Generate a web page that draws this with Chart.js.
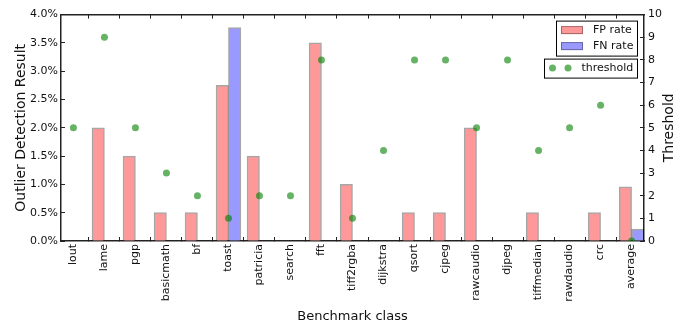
<!DOCTYPE html>
<html>
<head>
<meta charset="utf-8">
<script src="https://cdn.jsdelivr.net/npm/chart.js@4/dist/chart.umd.min.js"></script>
<style>
  html, body { margin: 0; padding: 0; background: #fff; }
  #wrap { width: 699px; height: 331px; }
</style>
</head>
<body>
<div id="wrap"><canvas id="c" width="699" height="331"></canvas></div>
<script>
// Benchmarks on the x axis
const categories = ['lout', 'lame', 'pgp', 'basicmath', 'bf', 'toast', 'patricia', 'search', 'fft',
  'tiff2rgba', 'dijkstra', 'qsort', 'cjpeg', 'rawcaudio', 'djpeg', 'tiffmedian', 'rawdaudio', 'crc', 'average'];

// False positive / false negative rates, in percent
const fpRate = [0, 2.0, 1.5, 0.5, 0.5, 2.75, 1.5, 0, 3.5, 1.0, 0, 0.5, 0.5, 2.0, 0, 0.5, 0, 0.5, 0.958];
const fnRate = [0, 0, 0, 0, 0, 3.77, 0, 0, 0, 0, 0, 0, 0, 0, 0, 0, 0, 0, 0.209];

// Detection threshold per benchmark (right axis)
const threshold = [5, 9, 5, 3, 2, 1, 2, 2, 8, 1, 4, 8, 8, 5, 8, 4, 5, 6, 0];

// Axis tick values
const leftTicks = [0, 0.5, 1.0, 1.5, 2.0, 2.5, 3.0, 3.5, 4.0];
const rightTicks = [0, 1, 2, 3, 4, 5, 6, 7, 8, 9, 10];

const FONT = 'DejaVu Sans';
const INK = '#111';
const pts = arr => arr.map((v, i) => ({ x: i, y: v }));

// Legend boxes and the right-hand axis title, drawn on top of the chart
const overlay = {
  id: 'overlay',
  afterDraw(chart) {
    const ctx = chart.ctx;
    const area = chart.chartArea;
    const ds = chart.data.datasets;
    ctx.save();

    // bar legend
    const r = area.right - 6;
    let bx = r - 82, by = area.top + 6;
    ctx.fillStyle = '#fff';
    ctx.fillRect(bx, by, 82, 36);
    ctx.strokeStyle = '#000';
    ctx.lineWidth = 1;
    ctx.strokeRect(bx + 0.5, by + 0.5, 81, 35);
    ctx.font = '11px "' + FONT + '"';
    ctx.textBaseline = 'middle';
    ctx.textAlign = 'left';
    [ds[0], ds[1]].forEach((d, k) => {
      const cy = by + 9.5 + k * 16;
      ctx.fillStyle = d.backgroundColor;
      ctx.fillRect(bx + 5, cy - 4, 22, 8);
      ctx.strokeStyle = d.borderColor;
      ctx.strokeRect(bx + 5.5, cy - 3.5, 21, 7);
      ctx.fillStyle = INK;
      ctx.fillText(d.label, bx + 37, cy);
    });

    // threshold legend
    bx = r - 94; by = area.top + 44;
    ctx.fillStyle = '#fff';
    ctx.fillRect(bx, by, 94, 20);
    ctx.strokeStyle = '#000';
    ctx.strokeRect(bx + 0.5, by + 0.5, 93, 19);
    const cy = by + 9.5;
    ctx.fillStyle = ds[2].pointBackgroundColor;
    [bx + 8.5, bx + 24].forEach(px => {
      ctx.beginPath();
      ctx.arc(px, cy, 3.5, 0, Math.PI * 2);
      ctx.fill();
    });
    ctx.fillStyle = INK;
    ctx.fillText(ds[2].label, bx + 37.5, cy);

    // right axis title, reading upward
    ctx.font = '14px "' + FONT + '"';
    ctx.textAlign = 'center';
    ctx.translate(669, (area.top + area.bottom) / 2);
    ctx.rotate(-Math.PI / 2);
    ctx.fillText('Threshold', 0, 0);
    ctx.restore();
  }
};

const frame = { display: true, color: '#222', width: 1.5 };
const inwardTicks = { drawOnChartArea: false, drawTicks: true, tickLength: -4, tickColor: '#222', tickWidth: 1 };

new Chart(document.getElementById('c'), {
  type: 'bar',
  data: {
    datasets: [
      {
        label: 'FP rate', data: pts(fpRate), xAxisID: 'x', yAxisID: 'y',
        backgroundColor: 'rgb(255,153,153)', borderColor: 'rgba(0,0,0,0.35)', borderWidth: 1.5,
        barThickness: 12.4, order: 1
      },
      {
        label: 'FN rate', data: pts(fnRate), xAxisID: 'x', yAxisID: 'y',
        backgroundColor: 'rgb(153,153,255)', borderColor: 'rgba(0,0,0,0.35)', borderWidth: 1.5,
        barThickness: 12.4, order: 1
      },
      {
        type: 'scatter', label: 'threshold', data: pts(threshold), xAxisID: 'x', yAxisID: 'y2',
        pointRadius: 3.5, pointBackgroundColor: 'rgba(0,128,0,0.6)', pointBorderWidth: 0,
        showLine: false, order: 0
      }
    ]
  },
  options: {
    responsive: false,
    devicePixelRatio: 1,
    animation: false,
    events: [],
    layout: { padding: 0 },
    plugins: { legend: { display: false }, tooltip: { enabled: false } },
    scales: {
      x: {
        type: 'linear', position: 'bottom', min: -0.4, max: 18.4, offset: false,
        grid: inwardTicks, border: frame,
        ticks: {
          stepSize: 1, includeBounds: false, autoSkip: false, maxRotation: 90, minRotation: 90,
          padding: 7, color: INK, font: { family: FONT, size: 11 },
          callback: v => categories[Math.round(v)] ?? ''
        },
        title: { display: true, text: 'Benchmark class', color: INK, font: { family: FONT, size: 13 }, padding: { top: 0, bottom: 7 } },
        afterFit: s => { s.height = 90; }
      },
      xTop: {
        type: 'linear', position: 'top', min: -0.4, max: 18.4, offset: false,
        grid: inwardTicks, border: frame,
        ticks: { stepSize: 1, includeBounds: false, display: false },
        afterFit: s => { s.height = 7; }
      },
      y: {
        type: 'linear', position: 'left', min: 0, max: 4,
        grid: inwardTicks, border: frame,
        afterBuildTicks: s => { s.ticks = leftTicks.map(v => ({ value: v })); },
        ticks: { padding: 7, color: INK, font: { family: FONT, size: 11 }, callback: v => v.toFixed(1) + '%' },
        title: { display: true, text: 'Outlier Detection Result', color: INK, font: { family: FONT, size: 14 }, padding: { top: 13, bottom: 0 } },
        afterFit: s => { s.width = 61; }
      },
      y2: {
        type: 'linear', position: 'right', min: 0, max: 10,
        grid: inwardTicks, border: frame,
        afterBuildTicks: s => { s.ticks = rightTicks.map(v => ({ value: v })); },
        ticks: { padding: 8, color: INK, font: { family: FONT, size: 11 }, callback: v => String(v) },
        afterFit: s => { s.width = 55; }
      }
    }
  },
  plugins: [overlay]
});
</script>
</body>
</html>
